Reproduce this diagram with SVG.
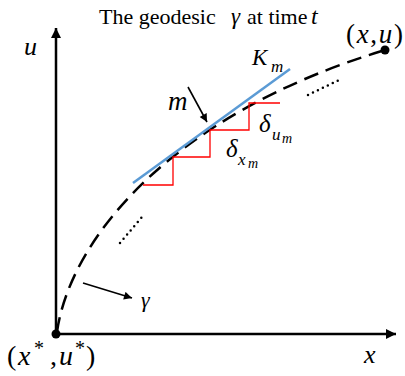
<svg xmlns="http://www.w3.org/2000/svg" width="405" height="376" viewBox="0 0 405 376">
<style>
text{font-family:'Liberation Serif','Times New Roman',serif;fill:#000}
.i{font-style:italic}
.axis{stroke:#000;stroke-width:2.5;fill:none}
.red{stroke:#ff0000;stroke-width:1.3;fill:none}
.dots{stroke:#000;stroke-width:2.5;stroke-linecap:round;stroke-dasharray:0 5.5;fill:none}
.arr{stroke:#000;stroke-width:1.6;fill:none}
</style>
<defs>
<marker id="ah" viewBox="0 0 10 10" refX="10" refY="5" markerWidth="10" markerHeight="10" markerUnits="userSpaceOnUse" orient="auto"><path d="M0,0 L10,5 L0,10 z" fill="#000"/></marker>
<marker id="sa" viewBox="0 0 10 10" refX="10" refY="5" markerWidth="10" markerHeight="8" markerUnits="userSpaceOnUse" orient="auto"><path d="M0,0 L10,5 L0,10 z" fill="#000"/></marker>
</defs>
<g id="title">
<text font-size="22" y="24"><tspan x="99">The geodesic</tspan><tspan class="i" x="231" font-size="23">γ</tspan><tspan x="247">at time</tspan><tspan class="i" x="311" font-size="24">t</tspan></text>
</g>
<g id="connectors">
<path id="u-axis" class="axis" d="M56,334 L56,28" marker-end="url(#ah)"/>
<path id="x-axis" class="axis" d="M56,334 L396,334" marker-end="url(#ah)"/>
<path id="geodesic" d="M57,332 C70,240 170,115 385,50" stroke="#000" stroke-width="2.5" fill="none" stroke-dasharray="15,8"/>
<path id="staircase" class="red" d="M143,185 H173 V157 H210 V130 H249 V103 H280"/>
<line id="tangent" x1="133" y1="183" x2="290" y2="69" stroke="#5b9bd5" stroke-width="2.5"/>
<path id="m-arrow" class="arr" d="M188,87 L207,122" marker-end="url(#sa)"/>
<path id="gamma-arrow" class="arr" d="M83,283 L132,298" marker-end="url(#sa)"/>
<path class="dots" d="M308,95 L339,80"/>
<path class="dots" d="M120,243 L142,217"/>
</g>
<g id="origin"><circle cx="56" cy="334" r="4.5" fill="#000"/>
<text font-size="28"><tspan x="7" y="365">(</tspan><tspan class="i" x="18" y="365">x</tspan><tspan x="34" y="355" font-size="20">*</tspan><tspan x="50" y="365">,</tspan><tspan class="i" x="59" y="365">u</tspan><tspan x="75" y="355" font-size="20">*</tspan><tspan x="86" y="365">)</tspan></text></g>
<g id="end"><circle cx="385" cy="50" r="4.5" fill="#000"/>
<text x="346" y="43" font-size="27" textLength="57">(<tspan class="i">x</tspan>,<tspan class="i">u</tspan>)</text></g>
<g id="labels">
<text class="i" x="24" y="55" font-size="26">u</text>
<text class="i" x="364" y="363" font-size="26">x</text>
<text class="i" x="168" y="110" font-size="27">m</text>
<text class="i" x="141" y="307" font-size="22">γ</text>
<text class="i" font-size="23"><tspan x="252" y="65">K</tspan><tspan x="271" y="72" font-size="17">m</tspan></text>
<text class="i" font-size="25"><tspan x="259" y="132">δ</tspan><tspan x="272" y="140" font-size="17">u</tspan><tspan x="282" y="143" font-size="14">m</tspan></text>
<text class="i" font-size="25"><tspan x="226" y="157">δ</tspan><tspan x="238" y="165" font-size="17">x</tspan><tspan x="248" y="168" font-size="14">m</tspan></text>
</g>
</svg>
